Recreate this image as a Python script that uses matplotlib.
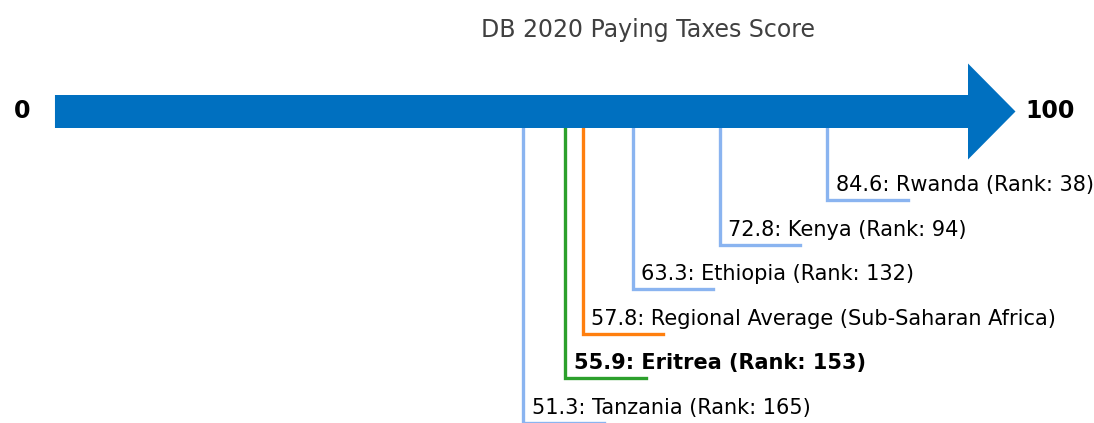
import matplotlib.pyplot as plt
from matplotlib.patches import Polygon

# scores on the 0-100 scale
names = ["Rwanda (Rank: 38)", "Kenya (Rank: 94)", "Ethiopia (Rank: 132)",
         "Regional Average (Sub-Saharan Africa)", "Eritrea (Rank: 153)",
         "Tanzania (Rank: 165)"]
scores = [84.6, 72.8, 63.3, 57.8, 55.9, 51.3]
colors = ["#8ab4f0", "#8ab4f0", "#8ab4f0", "#ff7f0e", "#2ca02c", "#8ab4f0"]
bold = [False, False, False, False, True, False]

arrow_col = "#0070c0"

fig = plt.figure(figsize=(10.94, 4.23), dpi=100)
ax = fig.add_axes([0, 0, 1, 1])
ax.set_xlim(-6.02, 113.8)
ax.set_ylim(423, 0)
ax.axis("off")

# big arrow (vertical positions in pixel-like units)
yc = 111.5
half_shaft = 16.5
half_head = 48
head_len = 5.2
pts = [(0, yc - half_shaft), (100, yc - half_shaft), (100, yc - half_head),
       (100 + head_len, yc), (100, yc + half_head), (100, yc + half_shaft),
       (0, yc + half_shaft)]
ax.add_patch(Polygon(pts, closed=True, fc=arrow_col, ec="none", zorder=3))

ax.text(-3.6, yc, "0", fontsize=17, fontweight="bold", ha="center", va="center")
ax.text(106.3, yc, "100", fontsize=17, fontweight="bold", ha="left", va="center")

ax.text(64.9, 30, "DB 2020 Paying Taxes Score", fontsize=17, color="#404040",
        ha="center", va="center")

for i, (n, s, c, b) in enumerate(zip(names, scores, colors, bold)):
    y = 200 + 44.6 * i
    ax.plot([s, s, s + 8.8], [yc + half_shaft, y, y], color=c, lw=2.4,
            solid_joinstyle="miter", zorder=2)
    ax.text(s + 0.9, y - 5, f"{s}: {n}", fontsize=15,
            fontweight="bold" if b else "normal", ha="left", va="bottom")

plt.savefig("out.png", dpi=100)
